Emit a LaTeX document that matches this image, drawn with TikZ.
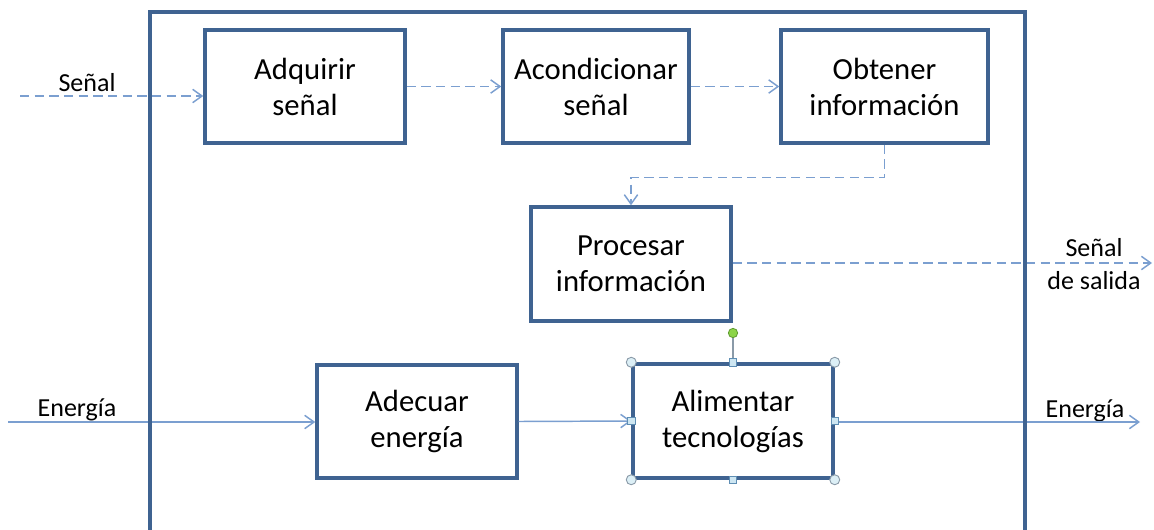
\documentclass[tikz,border=0pt]{standalone}
\usepackage{fontspec}
\setmainfont{Carlito}
\usetikzlibrary{arrows.meta}
\definecolor{frameblue}{HTML}{3F6391}
\definecolor{flowblue}{HTML}{7B9FD0}
\definecolor{handlefill}{HTML}{DCEFF6}
\definecolor{handledraw}{HTML}{8A9AA8}
\definecolor{sqfill}{HTML}{CDE6F2}
\definecolor{sqdraw}{HTML}{5E8EB4}
\definecolor{rotfill}{HTML}{8CD448}
\definecolor{rotdraw}{HTML}{5E9A30}
\begin{document}
\begin{tikzpicture}[x=0.75pt,y=-0.75pt,
  block/.style={draw=frameblue, line width=2.6pt, fill=white, align=center,
    font=\fontsize{23}{27}\selectfont, inner sep=0pt},
  lbl/.style={align=center, font=\fontsize{19.5}{24.5}\selectfont, inner sep=0pt},
  flow/.style={draw=flowblue, line width=1.1pt,
    -{Straight Barb[length=7pt,width=10pt,line width=1.1pt]}},
  sigflow/.style={flow, dash pattern=on 7pt off 4pt},
  frameline/.style={draw=frameblue, line width=3pt},
  corner/.style={circle, draw=handledraw, fill=handlefill, line width=0.7pt,
    minimum size=7.5pt, inner sep=0pt},
  midhandle/.style={rectangle, draw=sqdraw, fill=sqfill, line width=0.6pt,
    minimum size=5.5pt, inner sep=0pt},
  rothandle/.style={circle, draw=rotdraw, fill=rotfill, line width=0.6pt,
    minimum size=7pt, inner sep=0pt}]
\useasboundingbox (0,0) rectangle (1154,529);
\clip (0,0) rectangle (1154,529);

% processing blocks
\node[block, minimum width=150pt, minimum height=84.75pt] (adq) at (305,86.5) {Adquirir\\señal};
\node[block, minimum width=139.5pt, minimum height=84.75pt] (acon) at (596,86.5) {Acondicionar\\señal};
\node[block, minimum width=155.25pt, minimum height=84.75pt] (obt) at (884.5,86.5) {Obtener\\información};
\node[block, minimum width=150pt, minimum height=85.5pt] (proc) at (631,264) {Procesar\\información};
\node[block, minimum width=150pt, minimum height=84.75pt] (ade) at (417,421.5) {Adecuar\\energía};
\node[block, minimum width=150pt, minimum height=85.5pt] (ali) at (733,421) {Alimentar\\tecnologías};

% free ends of the external connectors
\coordinate (sin) at (20,96);
\coordinate (sout) at (1152,263);
\coordinate (ein) at (8,422);
\coordinate (eout) at (1140,422);

% labels
\node[lbl] (lsin) at (87,83) {Señal};
\node[lbl] (lsout) at (1094,264) {Señal\\de salida};
\node[lbl] (lein) at (77,410) {Energía};
\node[lbl] (leout) at (1085,411) {Energía};

% signal path
\draw[sigflow] (sin) -- (sin -| adq.west);
\draw[sigflow] (adq.east) -- (acon.west);
\draw[sigflow] (acon.east) -- (obt.west);
\draw[sigflow] (obt.south) -- ++(0,33) -| (proc.north);
\draw[sigflow] (proc.east |- sout) -- (sout);

% energy path
\draw[flow] (ein) -- (ein -| ade.west);
\draw[flow] (ade.east) -- (ali.west);
\draw[flow] (ali.east |- eout) -- (eout);

% system boundary
\draw[frameline] (150,545) -- (150,12) -- (1025,12) -- (1025,545);

% selection handles
\node[rothandle] (rot) at (733,333) {};
\draw[draw=handledraw, line width=0.8pt] (rot) -- (ali.north);
\foreach \a in {north west, north east, south west, south east}
  \node[corner] at (ali.\a) {};
\foreach \a in {north, south, east, west}
  \node[midhandle] at (ali.\a) {};
\end{tikzpicture}
\end{document}
